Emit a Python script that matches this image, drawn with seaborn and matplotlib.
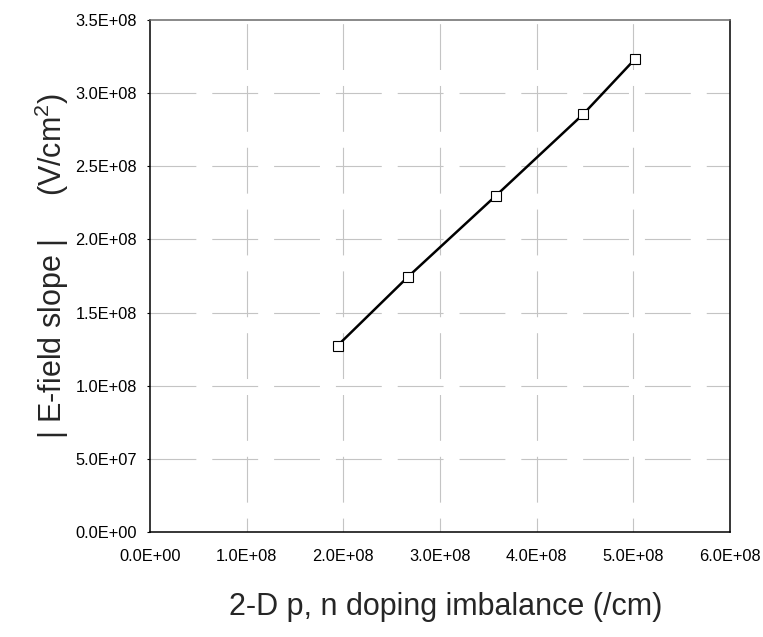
import matplotlib
matplotlib.use("Agg")
import matplotlib.pyplot as plt
from matplotlib.ticker import FuncFormatter, MultipleLocator
import seaborn as sns
import pandas as pd

# Doping imbalance (/cm) and |E-field slope| (V/cm^2)
imbalance = [1.94e8, 2.67e8, 3.58e8, 4.48e8, 5.02e8]
efield_slope = [1.274e8, 1.745e8, 2.30e8, 2.855e8, 3.235e8]

x_label = "2-D p, n doping imbalance (/cm)"
y_label = "| E-field slope |     (V/cm$^{2}$)"

sns.set_style("white")
plt.rcParams["font.family"] = ["Liberation Sans", "DejaVu Sans"]
plt.rcParams["mathtext.fontset"] = "custom"
plt.rcParams["mathtext.rm"] = "Liberation Sans"
plt.rcParams["mathtext.default"] = "regular"
plt.rcParams["lines.scale_dashes"] = False

df = pd.DataFrame({"imbalance": imbalance, "slope": efield_slope})

fig = plt.figure(figsize=(7.63, 6.37), dpi=100)
ax = fig.add_axes([150 / 763, 105 / 637, 580 / 763, 512 / 637])

sns.lineplot(data=df, x="imbalance", y="slope", ax=ax, color="black",
             linewidth=1.8, marker="s", markersize=6.7,
             markerfacecolor="white", markeredgecolor="black",
             markeredgewidth=0.8, zorder=3)

ax.set_xlim(0, 6e8)
ax.set_ylim(0, 3.5e8)
ax.xaxis.set_major_locator(MultipleLocator(1e8))
ax.yaxis.set_major_locator(MultipleLocator(0.5e8))
fmt = FuncFormatter(lambda v, p: f"{v:.1E}")
ax.xaxis.set_major_formatter(fmt)
ax.yaxis.set_major_formatter(fmt)

# dashed light-grey grid
ax.grid(False)
for v in [1e8, 2e8, 3e8, 4e8, 5e8]:
    ax.axvline(v, color="#c4c4c4", linewidth=0.8,
               linestyle=(23, (33, 11.5)), zorder=1)
for v in [0.5e8, 1e8, 1.5e8, 2e8, 2.5e8, 3e8]:
    ax.axhline(v, color="#c4c4c4", linewidth=0.8,
               linestyle=(0, (33, 11.5)), zorder=1)

for side in ["left", "bottom", "right"]:
    ax.spines[side].set_color("black")
    ax.spines[side].set_linewidth(1.1)
ax.spines["top"].set_color("#6a6a6a")
ax.spines["top"].set_linewidth(1.1)

ax.tick_params(axis="y", direction="out", length=2.5, width=0.8,
               pad=7, labelsize=11.8, colors="black", left=True)
ax.tick_params(axis="x", length=0, pad=12, labelsize=11.8, colors="black")

ax.set_xlabel(x_label, fontsize=22)
ax.set_ylabel(y_label, fontsize=22)
ax.xaxis.set_label_coords(0.51, -0.146)
ax.xaxis.label.set_va("center")
ax.yaxis.set_label_coords(-0.170, 0.52)
ax.yaxis.label.set_va("center")

fig.savefig("out.png", dpi=100)
